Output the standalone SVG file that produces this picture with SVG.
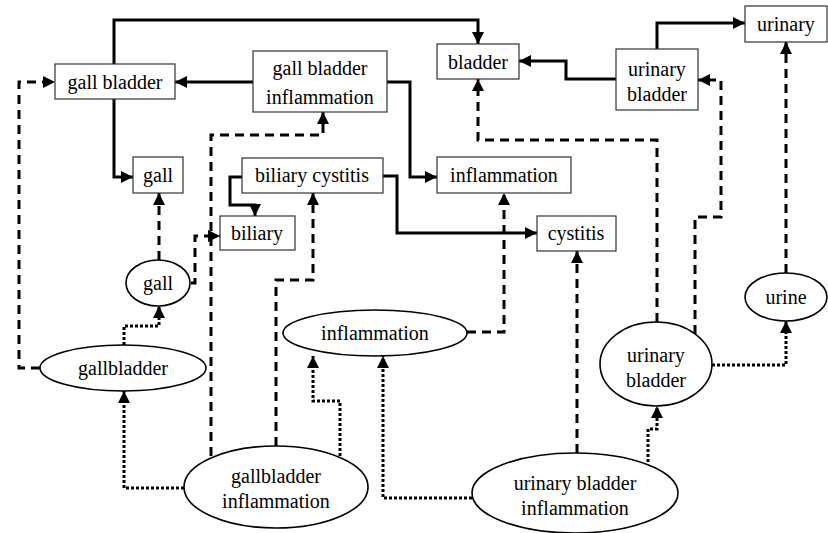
<svg xmlns="http://www.w3.org/2000/svg" width="828" height="533" viewBox="0 0 828 533" font-family="Liberation Serif, Times New Roman, DejaVu Serif, serif" font-size="20">
<style>
text{fill:#000;text-anchor:middle}
.box{fill:#fff;stroke:#333;stroke-width:1.2}
.ell{fill:#fff;stroke:#000;stroke-width:1.6}
.e{fill:none;stroke:#000;stroke-width:3;marker-end:url(#ah)}
.dash{stroke-dasharray:9 6}
.dot{stroke-dasharray:3 2}
</style>
<defs>
<marker id="ah" markerUnits="userSpaceOnUse" markerWidth="13" markerHeight="13" refX="12" refY="6" orient="auto">
<path d="M0,0 L12,6 L0,12 z" fill="#000"/>
</marker>
</defs>
<rect width="828" height="533" fill="#fff"/>
<g id="connectors">
<path class="e" d="M114,64 V20 H478 V44"/>
<path class="e" d="M253,82 H175"/>
<path class="e" d="M114,99 V177 H133"/>
<path class="e" d="M387,82 H410 V177 H437"/>
<path class="e" d="M242,177 H230 V205 H255 V216"/>
<path class="e" d="M383,176 H397 V233 H537"/>
<path class="e" d="M616,79 H566 V61 H519"/>
<path class="e" d="M657,49 V23 H745"/>
<path class="e dash" d="M40,368 H19 V82 H55"/>
<path class="e dash" d="M159,260 V193"/>
<path class="e dash" d="M191,283 H195 V236 H220"/>
<path class="e dash" d="M211,456 V135 H323 V112"/>
<path class="e dash" d="M276,446 V280 H313 V193"/>
<path class="e dash" d="M467,332 H504 V193"/>
<path class="e dash" d="M577,453 V251"/>
<path class="e dash" d="M657,322 V140 H478 V79"/>
<path class="e dash" d="M695,334 V217 H721 V80 H698"/>
<path class="e dash" d="M786,273 V42"/>
<path class="e dot" d="M124,345 V326 H159 V306"/>
<path class="e dot" d="M184,488 H124 V391"/>
<path class="e dot" d="M340,456 V401 H313 V356"/>
<path class="e dot" d="M472,498 H383 V356"/>
<path class="e dot" d="M648,462 V429 H657 V406"/>
<path class="e dot" d="M712,365 H786 V321"/>
</g>
<g id="n_gall_bladder"><rect class="box" x="55" y="64" width="120" height="35"/><text x="115" y="89">gall bladder</text></g>
<g id="n_gall_bladder_inflammation"><rect class="box" x="253" y="51" width="134" height="61"/><text x="320" y="75">gall bladder</text><text x="320" y="104">inflammation</text></g>
<g id="n_gall"><rect class="box" x="133" y="157" width="50" height="36"/><text x="158" y="182">gall</text></g>
<g id="n_biliary_cystitis"><rect class="box" x="242" y="158" width="141" height="35"/><text x="312" y="182">biliary cystitis</text></g>
<g id="n_biliary"><rect class="box" x="220" y="216" width="75" height="34"/><text x="257" y="240">biliary</text></g>
<g id="n_bladder"><rect class="box" x="437" y="44" width="82" height="35"/><text x="478" y="69">bladder</text></g>
<g id="n_urinary_bladder_box"><rect class="box" x="616" y="49" width="82" height="61"/><text x="657" y="76">urinary</text><text x="657" y="101">bladder</text></g>
<g id="n_urinary"><rect class="box" x="745" y="6" width="82" height="36"/><text x="786" y="31">urinary</text></g>
<g id="n_inflammation_box"><rect class="box" x="437" y="157" width="134" height="36"/><text x="504" y="182">inflammation</text></g>
<g id="n_cystitis"><rect class="box" x="537" y="216" width="79" height="35"/><text x="576" y="240">cystitis</text></g>
<g id="n_gall_e"><ellipse class="ell" cx="158" cy="283" rx="32" ry="23"/><text x="158" y="290">gall</text></g>
<g id="n_gallbladder_e"><ellipse class="ell" cx="123" cy="368" rx="83" ry="23"/><text x="123" y="375">gallbladder</text></g>
<g id="n_gallbladder_inflammation_e"><ellipse class="ell" cx="276" cy="487" rx="92" ry="41"/><text x="276" y="483">gallbladder</text><text x="276" y="508">inflammation</text></g>
<g id="n_inflammation_e"><ellipse class="ell" cx="375" cy="333" rx="92" ry="23"/><text x="375" y="340">inflammation</text></g>
<g id="n_urinary_bladder_inflammation_e"><ellipse class="ell" cx="575" cy="493" rx="103" ry="40"/><text x="575" y="490">urinary bladder</text><text x="575" y="515">inflammation</text></g>
<g id="n_urinary_bladder_e"><ellipse class="ell" cx="656" cy="364" rx="56" ry="42"/><text x="656" y="362">urinary</text><text x="656" y="387">bladder</text></g>
<g id="n_urine_e"><ellipse class="ell" cx="786" cy="297" rx="41" ry="24"/><text x="786" y="304">urine</text></g>
</svg>
